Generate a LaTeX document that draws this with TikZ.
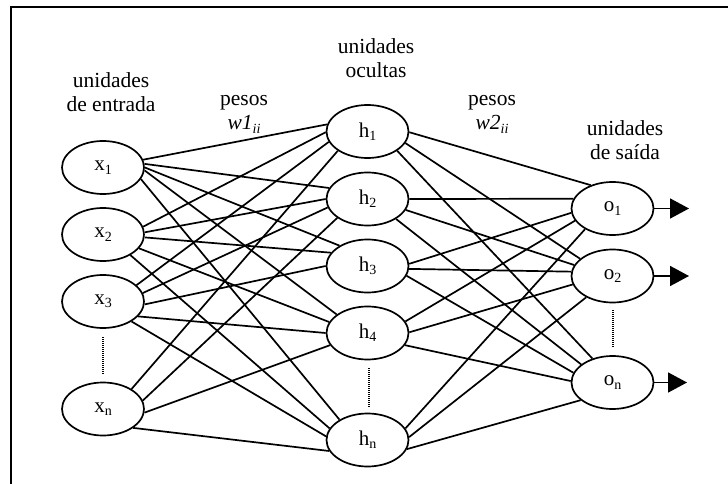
\documentclass[tikz,border=0pt]{standalone}
\usepackage{fontspec}
\setmainfont{Liberation Serif}
\usetikzlibrary{arrows.meta,shapes.geometric}
\newcommand\mysub[1]{\raisebox{-0.35ex}{\fontsize{14}{14}\selectfont #1}}
\begin{document}
\begin{tikzpicture}[x=1pt,y=-1pt,
  unit/.style={draw, ellipse, line width=1.7pt, minimum width=82pt, minimum height=53pt,
    inner sep=0pt, font=\fontsize{21}{21}\selectfont},
  conn/.style={line width=1.7pt},
  vdots/.style={line width=1.1pt, dash pattern=on 1pt off 1pt},
  caption/.style={align=center, anchor=north, inner sep=0pt, font=\fontsize{21.5}{24}\selectfont},
  outarrow/.style={line width=1.7pt, -{Triangle[width=20pt,length=19pt]}},
  frame/.style={line width=1.7pt}]
\useasboundingbox (0,0) rectangle (728,484);
% frame
\draw[frame] (11,490) -- (11,7) -- (730,7);
% captions
\node[caption] (cin) at (111,72.6) {unidades\\de entrada};
\node[caption] (cw1) at (244,95.5) {pesos\\\textit{w1}\mysub{\textit{ii}}};
\node[caption] (chid) at (376,38.6) {unidades\\ocultas};
\node[caption] (cw2) at (492,95.5) {pesos\\\textit{w2}\mysub{\textit{ii}}};
\node[caption] (cout) at (625,120.3) {unidades\\de saída};
% input units
\node[unit] (x1) at (103,167.5) {x\mysub{1}};
\node[unit] (x2) at (103,234.5) {x\mysub{2}};
\node[unit] (x3) at (103,301.5) {x\mysub{3}};
\node[unit] (xn) at (103,409) {x\mysub{n}};
% hidden units
\node[unit] (h1) at (367.5,131.5) {h\mysub{1}};
\node[unit] (h2) at (367.5,199) {h\mysub{2}};
\node[unit] (h3) at (367.5,266) {h\mysub{3}};
\node[unit] (h4) at (367.5,333) {h\mysub{4}};
\node[unit] (hn) at (367.5,440) {h\mysub{n}};
% output units
\node[unit] (o1) at (612.5,208.5) {o\mysub{1}};
\node[unit] (o2) at (612.5,276) {o\mysub{2}};
\node[unit] (on) at (612.5,382.5) {o\mysub{n}};
% dotted continuation marks
\coordinate (dxa) at (103,337); \coordinate (dxb) at (103,375);
\coordinate (dha) at (369,368); \coordinate (dhb) at (369,407);
\coordinate (doa) at (613,310); \coordinate (dob) at (613,348);
\draw[vdots] (dxa) -- (dxb);
\draw[vdots] (dha) -- (dhb);
\draw[vdots] (doa) -- (dob);
% input -> hidden connections (weights w1)
\foreach \a/\sa/\b/\sb in {
  x1/11.5/h1/170, x1/5.6/h2/164, x1/0.7/h3/144, x1/-4.7/h4/149.7, x1/-17.9/hn/144,
  x2/11.9/h1/181.7, x2/3.8/h2/180, x2/-4.8/h3/160.7, x2/-21.8/h4/164.5, x2/-37.2/hn/163.4,
  x3/26.1/h1/195.9, x3/12.3/h2/192, x3/-4.8/h3/180, x3/-23.5/h4/180, x3/-35.1/hn/175.5,
  xn/35.8/h1/213.3, xn/12.6/h2/212, xn/-5.8/h4/198.6, xn/-32.5/hn/196.6}
  \draw[conn] (\a.\sa) -- (\b.\sb);
% hidden -> output connections (weights w2)
\foreach \a/\sa/\b/\sb in {
  h1/-1.6/o1/133.8, h1/-17.6/o2/152.5, h1/-33.3/on/130.7,
  h2/0/o1/166, h2/-16.6/o2/164.3, h2/-35.2/on/150.4,
  h3/3.4/o1/186.7, h3/-4/o2/174, h3/-14.6/on/166.8,
  h4/17/o1/198.6, h4/1/o2/192.4, h4/-18/on/178.9,
  hn/17.3/o1/217.2, hn/4.4/o2/219, hn/-13.5/on/209.2}
  \draw[conn] (\a.\sa) -- (\b.\sb);
% output arrows
\coordinate (a1) at (689,208.5);
\coordinate (a2) at (689,276);
\coordinate (an) at (687,382.5);
\draw[outarrow] (o1.east) -- (a1);
\draw[outarrow] (o2.east) -- (a2);
\draw[outarrow] (on.east) -- (an);
\end{tikzpicture}
\end{document}
